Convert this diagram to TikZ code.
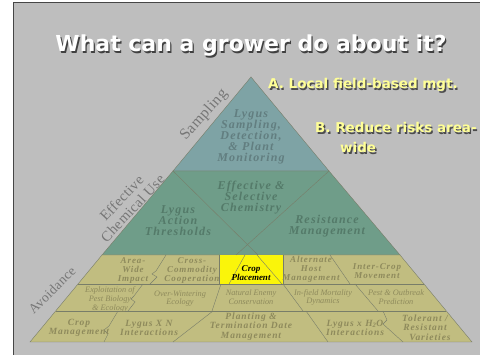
\documentclass[tikz,border=0pt]{standalone}
\usepackage{fontspec}
\setmainfont{Liberation Serif}
\newfontfamily\ttlfont{DejaVu Sans}
\newfontfamily\pyrfont[LetterSpace=10]{Liberation Serif}
\newfontfamily\rowfont[LetterSpace=10]{Liberation Serif}
\newfontfamily\sidefont[LetterSpace=3]{Liberation Serif}
\definecolor{bgc}{RGB}{190,190,190}
\definecolor{framec}{RGB}{70,70,70}
\definecolor{bluec}{RGB}{126,163,165}
\definecolor{greenc}{RGB}{111,157,137}
\definecolor{olivec}{RGB}{193,189,128}
\definecolor{bluetxt}{RGB}{98,126,128}
\definecolor{greentxt}{RGB}{84,122,105}
\definecolor{olivetxt}{RGB}{142,138,92}
\definecolor{edgec}{RGB}{120,125,105}
\definecolor{sidec}{RGB}{118,118,118}
\definecolor{ttlyel}{RGB}{255,255,150}
\definecolor{cropyel}{RGB}{250,245,10}
\newcommand\shtxt[2]{\makebox[0pt][l]{\hspace*{1.3pt}\raisebox{-1.3pt}{\textcolor{#1}{#2}}}#2}
\tikzset{
  ttl/.style={font=\ttlfont\bfseries\fontsize{22}{24}\selectfont, inner sep=0},
  sub/.style={font=\ttlfont\bfseries\fontsize{13.5}{15}\selectfont, inner sep=0, anchor=base west},
  bluet/.style={text=bluetxt, align=center, inner sep=0, font=\pyrfont\bfseries\itshape\fontsize{12}{11}\selectfont},
  greent/.style={text=greentxt, align=center, inner sep=0, font=\pyrfont\bfseries\itshape\fontsize{12}{11}\selectfont},
  rowone/.style={text=olivetxt, align=center, inner sep=0, font=\rowfont\bfseries\itshape\fontsize{9}{9}\selectfont},
  rowtwo/.style={text=olivetxt, align=center, inner sep=0, font=\itshape\fontsize{8.3}{8.7}\selectfont},
  rowthree/.style={text=olivetxt, align=center, inner sep=0, font=\rowfont\bfseries\itshape\fontsize{9.5}{9.5}\selectfont},
  sidelbl/.style={text=sidec, align=center, inner sep=0, font=\sidefont\fontsize{14.5}{15}\selectfont},
  band/.style={draw=edgec, line width=0.4pt},
  divider/.style={draw=edgec, line width=0.4pt}
}
\begin{document}
\begin{tikzpicture}[x=1pt,y=-1pt]
\fill[white] (0,0) rectangle (480,355);
\useasboundingbox (0,0) rectangle (480,355);
\fill[bgc] (13,3) rectangle (480,355);
\draw[framec, line width=1pt] (13,355) -- (13,3) -- (480,3);

% pyramid geometry
\coordinate (apex) at (251,77);
\coordinate (b1l) at (173,171);
\coordinate (b1r) at (329,171);
\coordinate (g2l) at (102,255);
\coordinate (g2r) at (400,255);
\coordinate (r1l) at (78,284);
\coordinate (r1r) at (424,284);
\coordinate (r2l) at (56,311);
\coordinate (r2r) at (446,311);
\coordinate (basel) at (30,342);
\coordinate (baser) at (472,342);

\filldraw[band, fill=bluec] (apex) -- (b1l) -- (b1r) -- cycle;
\filldraw[band, fill=greenc] (b1l) -- (g2l) -- (g2r) -- (b1r) -- cycle;
\filldraw[band, fill=olivec] (g2l) -- (basel) -- (baser) -- (g2r) -- cycle;
\fill[cropyel] (219,255) rectangle (283,284);

% green diagonals
\coordinate (gd1) at (258,255);
\coordinate (gd2) at (236,255);
\draw[divider] (b1l) -- (gd1);
\draw[divider] (b1r) -- (gd2);

% row lines
\draw[divider] (r1l) -- (r1r);
\draw[divider] (r2l) -- (r2r);

% row 1 dividers
\draw[divider] (166,255) -- (156,271) -- (152,274) -- (157,277) -- (150,284);
\draw[divider] (219,255) -- (219,284);
\draw[divider] (283,255) -- (283,284);
\draw[divider] (245,255) -- (229,284);
\draw[divider] (257,255) -- (282,284);
\draw[divider] (330,255) -- (350,284);

% row 2 dividers
\draw[divider] (143,284) -- (134,296) -- (131,299) -- (135,302) -- (128,311);
\draw[divider] (221,284) -- (212,311);
\draw[divider] (283,284) -- (303,311);
\draw[divider] (355,284) -- (378,311);

% row 3 dividers
\draw[divider] (118,311) -- (109,326) -- (104,330) -- (108,334) -- (104,342);
\draw[divider] (213,311) -- (173,342);
\draw[divider] (306,311) -- (328,342);
\draw[divider] (383,311) -- (387,320) -- (383,324) -- (403,342);

% titles
\node[ttl, text=white] (title) at (251,46.5) {\shtxt{black!75}{What can a grower do about it?}};
\node[sub, text=ttlyel] (suba) at (268,89) {\shtxt{black!70}{A. Local field-based mgt.}};
\node[sub, text=ttlyel] (subb) at (315,133) {\shtxt{black!70}{B. Reduce risks area-}};
\node[sub, text=ttlyel] (subc) at (340,153) {\shtxt{black!70}{wide}};

% side labels
\node[sidelbl, rotate=48, font=\sidefont\fontsize{15.5}{16}\selectfont] (samp) at (204,115) {Sampling};
\node[sidelbl, rotate=47] (chem) at (127,203) {Effective\\Chemical Use};
\node[sidelbl, rotate=45, font=\sidefont\fontsize{13.5}{14}\selectfont] (avoid) at (52,290) {Avoidance};

% top band
\node[bluet] (mon) at (251,137) {Lygus\\Sampling,\\Detection,\\\& Plant\\Monitoring};
% middle band
\node[greent] (thr) at (178,221) {Lygus\\Action\\Thresholds};
\node[greent] (chemy) at (251,198) {Effective \&\\Selective\\Chemistry};
\node[greent] (resm) at (327,226) {Resistance\\Management};

% row 1
\node[rowone] (area) at (133,270) {Area-\\Wide\\Impact};
\node[rowone] (cross) at (192,270) {Cross-\\Commodity\\Cooperation};
\node[rowone, text=black, font=\bfseries\itshape\fontsize{9}{9}\selectfont] (crop) at (251,273.5) {Crop\\Placement};
\node[rowone] (alt) at (311,269.5) {Alternate\\Host\\Management};
\node[rowone] (inter) at (377,271) {Inter-Crop\\Movement};

% row 2
\node[rowtwo] (expl) at (110,299.5) {Exploitation of\\Pest Biology\\\& Ecology};
\node[rowtwo] (over) at (180,298.5) {Over-Wintering\\Ecology};
\node[rowtwo] (nat) at (251,297.5) {Natural Enemy\\Conservation};
\node[rowtwo] (infield) at (323,297.5) {In-field Mortality\\Dynamics};
\node[rowtwo] (pest) at (396,297.5) {Pest \& Outbreak\\Prediction};

% row 3
\node[rowthree] (cmg) at (79,328) {Crop\\Management};
\node[rowthree] (lxn) at (149,328) {Lygus X N\\Interactions};
\node[rowthree] (plant) at (251,326.5) {Planting \&\\Termination Date\\Management};
\node[rowthree] (lho) at (355,328) {Lygus x H\textsubscript{2}O\\Interactions};
\node[rowthree] (tol) at (425,327.5) {Tolerant /\\Resistant\\~~~Varieties};
\end{tikzpicture}
\end{document}
